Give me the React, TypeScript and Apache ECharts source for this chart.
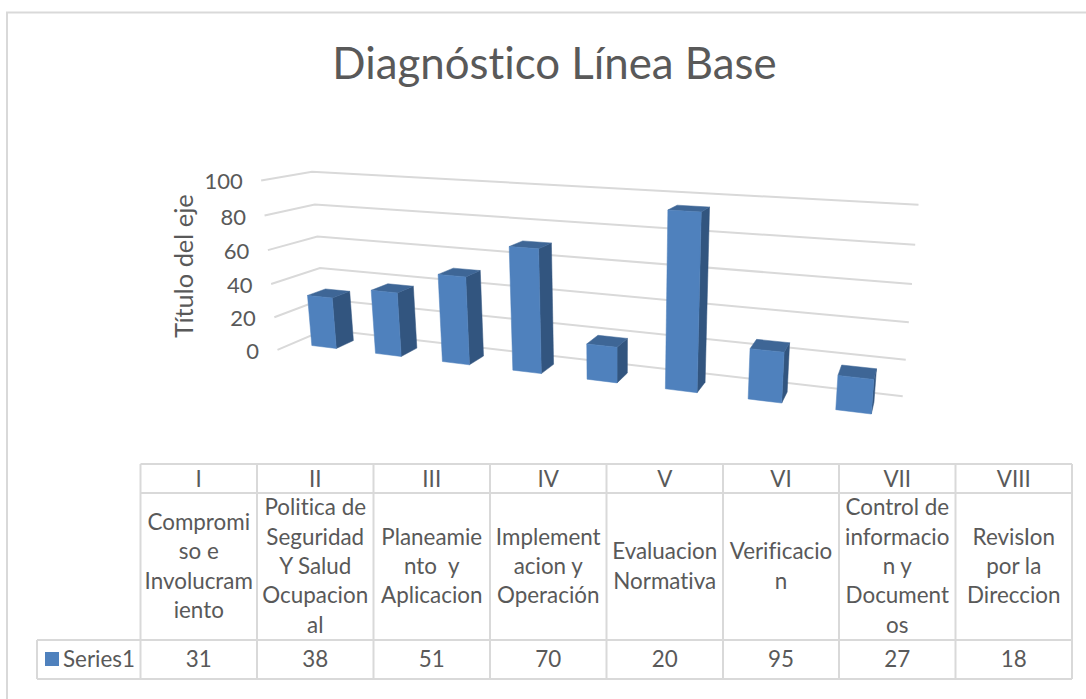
import React, { useEffect, useRef } from "react";
import * as echarts from "echarts";

const titleText = "Diagnóstico Línea Base";
const axisTitle = "Título del eje";
const seriesName = "Series1";
const romanLabels = ["I", "II", "III", "IV", "V", "VI", "VII", "VIII"];
const categoryLabels = [
  "Compromi\nso e\nInvolucram\niento",
  "Politica de\nSeguridad\nY Salud\nOcupacion\nal",
  "Planeamie\nnto  y\nAplicacion",
  "Implement\nacion y\nOperación",
  "Evaluacion\nNormativa",
  "Verificacio\nn",
  "Control de\ninformacio\nn y\nDocument\nos",
  "RevisIon\npor la\nDireccion",
];
const seriesValues = [31, 38, 51, 70, 20, 95, 27, 18];
const yTicks = [0, 20, 40, 60, 80, 100];

const FONT = "Lato, 'Open Sans', sans-serif";
const TEXT = "#595959";
const LINE = "#D9D9D9";
const FRONT = "#4F81BD";
const SIDE = "#32557F";
const TOP = "#3E6696";

// hidden plot rectangle whose scales feed the perspective projection
const G = { left: 100, top: 100, width: 800, height: 300 };

// perspective camera: i = category position, h = value, d = depth (0 bar front, 1 bar back)
function project(i: number, h: number, d: number): number[] {
  const w = 1 - 0.0244 * i - 0.000454 * h + 0.0285 * d;
  const x = 324 + 54.81 * i - 0.28 * h + 27.08 * d;
  const y = 347 - 0.786 * i - 1.757 * h + 1.796 * d;
  return [x / w, y / w];
}

// turn a point given by the hidden axes into model space
function fromAxes(api: any, cat: number, value: number) {
  const p = api.coord([cat, value]);
  const base = api.coord([0, 0]);
  const band = api.size([1, 0])[0];
  const i = (p[0] - base[0]) / band;
  const h = ((base[1] - p[1]) / G.height) * 100;
  return { i, h };
}

const BAR_HALF = 0.195;
const WALL_BACK = 1.82;
const WALL_FRONT = -0.82;

function renderBar(_: any, api: any) {
  const cat = api.value(0);
  const val = api.value(1);
  const { i, h } = fromAxes(api, cat, val);
  const l = i - BAR_HALF;
  const r = i + BAR_HALF;
  const poly = (pts: number[][], fill: string) => ({
    type: "polygon",
    shape: { points: pts },
    style: { fill, stroke: fill, lineWidth: 0.5 },
  });
  return {
    type: "group",
    children: [
      poly([project(r, 0, 0), project(r, 0, 1), project(r, h, 1), project(r, h, 0)], SIDE),
      poly([project(l, h, 0), project(r, h, 0), project(r, h, 1), project(l, h, 1)], TOP),
      poly([project(l, 0, 0), project(r, 0, 0), project(r, h, 0), project(l, h, 0)], FRONT),
    ],
  };
}

function renderGrid(_: any, api: any) {
  const val = api.value(0);
  const { h } = fromAxes(api, 0, val);
  const front = project(-0.5, h, WALL_FRONT);
  return {
    type: "group",
    children: [
      {
        type: "polyline",
        shape: {
          points: [front, project(-0.5, h, WALL_BACK), project(7.5, h, WALL_BACK)],
        },
        style: { stroke: LINE, lineWidth: 2, fill: "none" },
      },
      {
        type: "text",
        style: {
          x: front[0] - 18.5,
          y: front[1] + 0.5,
          text: String(val),
          fill: TEXT,
          font: `22px ${FONT}`,
          align: "right",
          verticalAlign: "middle",
        },
      },
    ],
  };
}

// data table layout
const colX = [140.5, 257, 373.5, 490, 606.5, 723, 839, 955.5, 1072];
const rowY = [464, 493, 640, 679];
const legendLeft = 37;

function tableGraphics() {
  const els: any[] = [];
  const line = (x1: number, y1: number, x2: number, y2: number) =>
    els.push({
      type: "line",
      shape: { x1, y1, x2, y2 },
      style: { stroke: LINE, lineWidth: 2 },
    });
  rowY.forEach((y, k) => line(k >= 2 ? legendLeft : colX[0], y, colX[8], y));
  colX.forEach((x) => line(x, rowY[0], x, rowY[3]));
  line(legendLeft, rowY[2], legendLeft, rowY[3]);
  const cell = (text: string, x: number, y: number, align = "center", lineHeight = 29.3) =>
    els.push({
      type: "text",
      style: {
        x,
        y,
        text,
        fill: TEXT,
        font: `22.4px ${FONT}`,
        align,
        verticalAlign: "middle",
        lineHeight,
      },
    });
  romanLabels.forEach((t, k) => cell(t, (colX[k] + colX[k + 1]) / 2, (rowY[0] + rowY[1]) / 2));
  categoryLabels.forEach((t, k) => cell(t, (colX[k] + colX[k + 1]) / 2, (rowY[1] + rowY[2]) / 2 - 1));
  seriesValues.forEach((t, k) => cell(String(t), (colX[k] + colX[k + 1]) / 2, (rowY[2] + rowY[3]) / 2 - 1));
  els.push({
    type: "rect",
    shape: { x: 45, y: 652, width: 14, height: 14 },
    style: { fill: FRONT },
  });
  cell(seriesName, 63, (rowY[2] + rowY[3]) / 2 - 1, "left");
  return els;
}

export default function App() {
  const ref = useRef<HTMLDivElement>(null);
  useEffect(() => {
    document.body.style.margin = "0";
    const sheet = document.createElement("style");
    sheet.textContent = "svg text { font-variant-ligatures: none !important; font-feature-settings: 'liga' 0, 'clig' 0 !important; }";
    document.head.appendChild(sheet);
    const chart = echarts.init(ref.current!, undefined, { renderer: "svg" });
    chart.setOption({
      animation: false,
      backgroundColor: "#ffffff",
      grid: { ...G, containLabel: false },
      xAxis: { type: "category", data: romanLabels, show: false, boundaryGap: true },
      yAxis: { type: "value", min: 0, max: 100, interval: 20, show: false },
      series: [
        {
          type: "custom",
          name: "grid",
          coordinateSystem: "cartesian2d",
          silent: true,
          clip: false,
          z: 1,
          encode: { y: 0 },
          data: yTicks.map((v) => [v]),
          renderItem: renderGrid,
        },
        {
          type: "custom",
          name: seriesName,
          coordinateSystem: "cartesian2d",
          clip: false,
          z: 2,
          encode: { x: 0, y: 1 },
          data: seriesValues.map((v, k) => [k, v]),
          renderItem: renderBar,
        },
      ],
      graphic: [
        {
          type: "polyline",
          silent: true,
          shape: { points: [[7, 699], [7, 12.5], [1086, 12.5]] },
          style: { stroke: LINE, lineWidth: 2, fill: "none" },
        },
        {
          type: "text",
          style: {
            x: 554.5,
            y: 62,
            text: titleText,
            fill: TEXT,
            font: `43.8px ${FONT}`,
            align: "center",
            verticalAlign: "middle",
          },
        },
        {
          type: "text",
          x: 183,
          y: 266,
          rotation: Math.PI / 2,
          style: {
            x: 0,
            y: 0,
            text: axisTitle,
            fill: TEXT,
            font: `25.4px ${FONT}`,
            align: "center",
            verticalAlign: "middle",
          },
        },
        ...tableGraphics(),
      ],
    });
    return () => {
      chart.dispose();
      sheet.remove();
    };
  }, []);
  return <div ref={ref} style={{ width: 1086, height: 699 }} />;
}
